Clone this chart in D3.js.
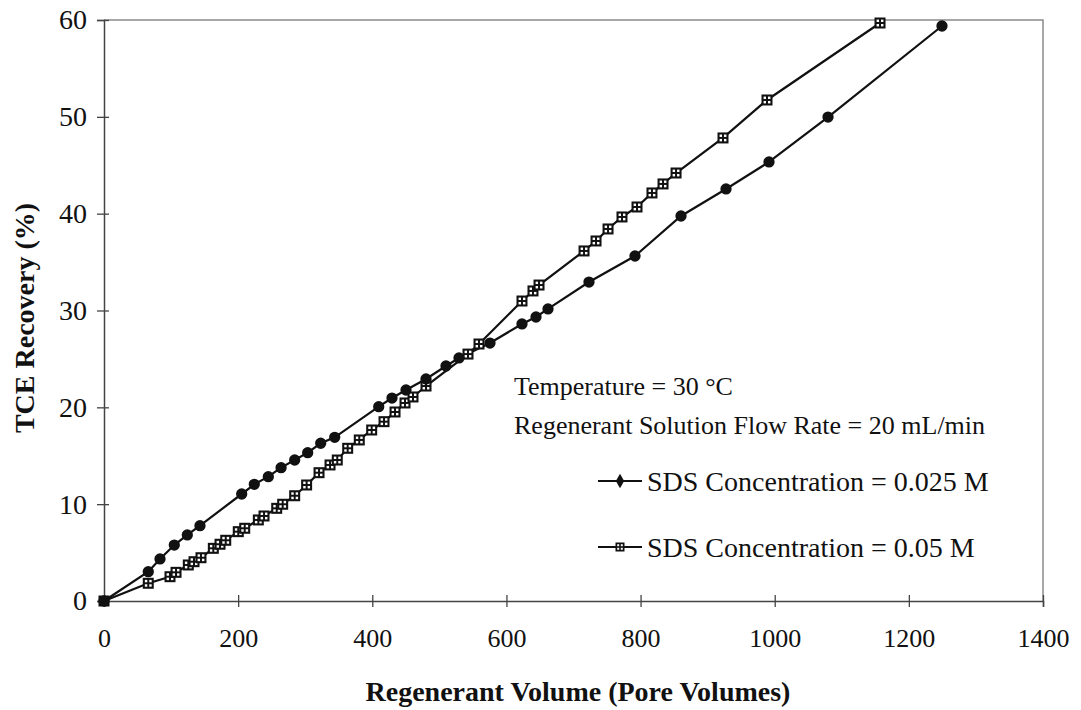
<!DOCTYPE html>
<html><head><meta charset="utf-8">
<script src="https://cdn.jsdelivr.net/npm/d3@7"></script>
<style>html,body{margin:0;padding:0;background:#fff;}svg{display:block;}</style>
</head><body>
<svg id="chart" width="1081" height="710"></svg>
<script>
// Series 1: SDS 0.025 M
const s1X = [0,66,83.5,104.8,124.2,143.1,205.3,224.1,245,264,284.3,303.7,323.1,344,409.6,429.4,450.3,480.1,509.9,529.3,575.5,623.2,644.1,662,723.1,791.7,860.3,927.4,991.5,1079.5,1249.4];
const s1Y = [0,3.03,4.34,5.78,6.82,7.78,11.05,12.05,12.84,13.77,14.56,15.32,16.29,16.9,20.07,20.96,21.79,22.93,24.27,25.1,26.64,28.61,29.33,30.16,32.94,35.63,39.76,42.55,45.34,49.98,59.38];
// Series 2: SDS 0.05 M
const s2X = [0,66,98.4,107.4,125.7,134.2,144.6,163,173,181.5,200.2,209.8,230.1,238.6,257.5,266.4,284.3,302.1,320.6,337,347.8,363.3,380.6,399.1,417.5,433.9,448.8,460.7,480.1,542.7,559.1,623.2,639.6,648.6,715.7,733.6,751.5,772.3,794.7,817,833.5,852.9,922.9,988.5,1157];
const s2Y = [0,1.83,2.51,2.96,3.72,4.06,4.47,5.44,5.86,6.27,7.16,7.51,8.37,8.78,9.57,9.99,10.87,11.98,13.25,14.05,14.56,15.77,16.63,17.66,18.52,19.52,20.45,21.07,22.2,25.5,26.54,30.98,32.02,32.63,36.15,37.18,38.42,39.66,40.69,42.14,43.07,44.2,47.82,51.74,59.69];
const xTicks = [0,200,400,600,800,1000,1200,1400];
const yTicks = [0,10,20,30,40,50,60];
const seriesNames = ["SDS Concentration = 0.025 M","SDS Concentration = 0.05 M"];
const noteLines = ["Temperature = 30  \u00B0C","Regenerant Solution Flow Rate = 20 mL/min"];
const xTitle = "Regenerant Volume (Pore Volumes)";
const yTitle = "TCE Recovery (%)";

const svg = d3.select("#chart");
const L = 104, R = 1043, T = 20, B = 601;
const x = d3.scaleLinear().domain([0,1400]).range([L,R]);
const y = d3.scaleLinear().domain([0,60]).range([B,T]);
const font = "'Liberation Serif','Times New Roman',serif";

// plot border (top/right)
svg.append("path").attr("d",`M${L},${T}H${R}V${B}`).attr("fill","none").attr("stroke","#8a8a8a").attr("stroke-width",1.5);

// axes
const xAxis = svg.append("g").attr("transform",`translate(0,${B})`)
  .call(d3.axisBottom(x).tickValues(xTicks).tickSize(6).tickPadding(22).tickFormat(d3.format("d")));
const yAxis = svg.append("g").attr("transform",`translate(${L},0)`)
  .call(d3.axisLeft(y).tickValues(yTicks).tickSize(7).tickPadding(10).tickFormat(d3.format("d")));
[xAxis,yAxis].forEach(a=>{
  a.select(".domain").attr("stroke","#444").attr("stroke-width",1.5);
  a.selectAll(".tick line").attr("stroke","#444").attr("stroke-width",1.3);
  a.selectAll("text").attr("font-family",font).attr("fill","#111");
});
xAxis.selectAll("text").attr("font-size",26);
yAxis.selectAll("text").attr("font-size",28);
xAxis.selectAll(".tick line").attr("y1",-6);
yAxis.selectAll(".tick line").attr("x1",5);

// titles
svg.append("text").attr("x",578).attr("y",701).attr("text-anchor","middle")
  .attr("font-family",font).attr("font-weight","bold").attr("font-size",28).attr("fill","#111").text(xTitle);
svg.append("text").attr("transform",`translate(34,${318}) rotate(-90)`).attr("text-anchor","middle")
  .attr("font-family",font).attr("font-weight","bold").attr("font-size",28).attr("fill","#111").text(yTitle);

// lines
const line = d3.line().x(d=>x(d[0])).y(d=>y(d[1]));
const d1 = s1X.map((v,i)=>[v,s1Y[i]]);
const d2 = s2X.map((v,i)=>[v,s2Y[i]]);
svg.append("path").datum(d1).attr("d",line).attr("fill","none").attr("stroke","#111").attr("stroke-width",2.2);
svg.append("path").datum(d2).attr("d",line).attr("fill","none").attr("stroke","#111").attr("stroke-width",2.2);

function sqMarker(g, s){
  g.append("rect").attr("x",-s/2).attr("y",-s/2).attr("width",s).attr("height",s).attr("fill","#111");
  const w = s*0.22;
  [[-1,-1],[1,-1],[-1,1],[1,1]].forEach(([a,b])=>{
    g.append("rect").attr("x",a*s*0.2-w/2).attr("y",b*s*0.2-w/2).attr("width",w).attr("height",w).attr("fill","#fff");
  });
}
// markers
svg.append("g").selectAll("g").data(d2).join("g")
  .attr("transform",d=>`translate(${x(d[0])},${y(d[1])})`).each(function(){sqMarker(d3.select(this),11);});
svg.append("g").selectAll("path").data(d1).join("path")
  .attr("transform",d=>`translate(${x(d[0])},${y(d[1])})`)
  .attr("d",d3.symbol(d3.symbolCircle,100)).attr("fill","#111");

// notes
noteLines.forEach((t,i)=>{
  svg.append("text").attr("x",514).attr("y",[395,434][i]).attr("font-family",font).attr("font-size",26).attr("fill","#111").text(t);
});

// legend
const legY = [481,547];
seriesNames.forEach((t,i)=>{
  svg.append("line").attr("x1",598).attr("x2",642).attr("y1",legY[i]).attr("y2",legY[i]).attr("stroke","#111").attr("stroke-width",2);
  if(i===0){
    svg.append("path").attr("transform",`translate(620,${legY[i]})`).attr("d",d3.symbol(d3.symbolDiamond,60)).attr("fill","#111");
  } else {
    sqMarker(svg.append("g").attr("transform",`translate(620,${legY[i]})`),9);
  }
  svg.append("text").attr("x",647).attr("y",legY[i]+10).attr("font-family",font).attr("font-size",28).attr("fill","#111").text(t);
});
</script>
</body></html>
